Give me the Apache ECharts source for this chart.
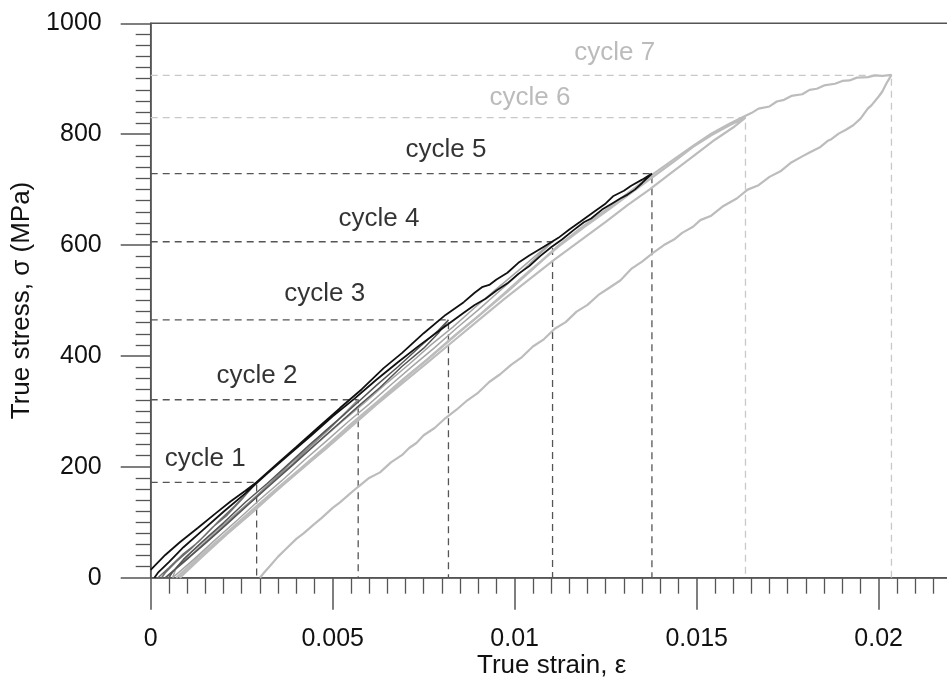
<!DOCTYPE html>
<html>
<head>
<meta charset="utf-8">
<script src="https://cdn.jsdelivr.net/npm/echarts@6/dist/echarts.min.js"></script>
<style>
  html, body { margin: 0; padding: 0; background: #fff; }
  #chart { width: 947px; height: 686px; }
</style>
</head>
<body>
<div id="chart"></div>
<script>
// stress-strain loops, [strain, stress MPa], loading then unloading
const cycle1 = [[0.0002,0],[0.0005,18],[0.0009,43],[0.0013,64],[0.0017,91],[0.0021,113],[0.0025,141],[0.00291,172],
  [0.0027,156],[0.0023,129],[0.0019,104],[0.0015,77],[0.0011,52],[0.0007,29],[0.0004,9],[0.0003,0]];
const cycle2 = [[0.0004,0],[0.0008,23],[0.0013,51],[0.0018,80],[0.0023,111],[0.0028,141],[0.0033,172],[0.0038,204],
  [0.0043,233],[0.0048,265],[0.0053,293],[0.0057,321],
  [0.0054,301],[0.0049,268],[0.0044,237],[0.0039,205],[0.0034,176],[0.0029,145],[0.0024,117],[0.0019,87],
  [0.0014,58],[0.0010,33],[0.0006,11],[0.0005,0]];
const cycle3 = [[0.0004,0],[0.0009,28],[0.0015,62],[0.0021,97],[0.0027,133],[0.0033,168],[0.0039,203],[0.0045,239],
  [0.0051,274],[0.0057,309],[0.0063,343],[0.0069,381],[0.0075,414],[0.0079,441],[0.00818,465],
  [0.0079,446],[0.0074,417],[0.0068,381],[0.0062,347],[0.0056,311],[0.0050,276],[0.0044,242],[0.0038,206],
  [0.0032,170],[0.0026,136],[0.0020,99],[0.0014,64],[0.0009,33],[0.0006,10],[0.0005,0]];
const cycle4 = [[0.0006,0],[0.0012,34],[0.0018,70],[0.0024,105],[0.0030,141],[0.0036,175],[0.0042,211],[0.0048,245],
  [0.0054,280],[0.0060,313],[0.0066,348],[0.0072,382],[0.0078,415],[0.0084,450],[0.0090,483],[0.0096,518],
  [0.0102,553],[0.0106,578],[0.01104,606],
  [0.0107,588],[0.0101,554],[0.0095,521],[0.0089,487],[0.0083,452],[0.0077,420],[0.0071,385],[0.0065,352],
  [0.0059,317],[0.0053,284],[0.0047,250],[0.0041,215],[0.0035,182],[0.0029,147],[0.0023,113],[0.0017,79],
  [0.0011,45],[0.0007,18],[0.0006,0]];
const cycle5 = [[0,14],[0.0004,41],[0.0008,64],[0.0013,90],[0.0018,117],[0.0022,138],[0.0026,157],[0.0029,172],
  [0.0035,207],[0.0040,236],[0.0046,271],[0.0052,306],[0.0058,340],[0.0064,378],[0.0069,405],[0.0075,441],
  [0.0081,474],[0.0086,497],[0.0089,514],[0.0091,524],[0.0093,528],[0.0095,538],[0.0098,550],[0.0101,568],
  [0.0104,581],[0.0108,597],[0.0112,613],[0.0115,628],[0.0118,642],[0.0122,661],[0.0125,675],[0.0127,688],
  [0.0130,698],[0.0132,707],[0.0135,718],[0.01377,729],
  [0.0135,712],[0.0133,700],[0.0131,691],[0.0129,684],[0.0127,676],[0.0124,664],[0.0121,648],[0.0119,641],
  [0.0116,626],[0.0113,610],[0.0110,596],[0.0107,580],[0.0104,562],[0.0101,548],[0.0098,531],[0.0095,518],
  [0.0092,503],[0.0089,492],[0.0086,478],[0.0080,449],[0.0074,420],[0.0068,389],[0.0062,357],[0.0056,323],
  [0.0050,291],[0.0044,256],[0.0038,222],[0.0032,188],[0.0026,152],[0.0020,119],[0.0014,84],[0.0009,55],
  [0.0005,28],[0.0002,9],[0.0001,0]];
const cycle6 = [[0.0007,0],[0.0013,36],[0.0020,76],[0.0027,117],[0.0034,157],[0.0041,196],[0.0048,236],[0.0055,277],
  [0.0062,316],[0.0069,356],[0.0076,394],[0.0083,434],[0.0090,472],[0.0097,512],[0.0104,553],[0.0112,597],
  [0.0119,632],[0.0126,665],[0.0132,694],[0.0138,723],[0.0144,752],[0.0149,777],[0.0154,798],[0.0159,816],
  [0.01634,830],
  [0.0160,812],[0.0155,790],[0.0149,760],[0.0143,730],[0.0137,700],[0.0131,672],[0.0125,642],[0.0118,608],
  [0.0111,574],[0.0104,538],[0.0097,502],[0.0090,464],[0.0083,426],[0.0076,388],[0.0069,350],[0.0062,312],
  [0.0055,272],[0.0048,232],[0.0041,194],[0.0034,154],[0.0027,114],[0.0020,74],[0.0014,40],[0.0010,16],[0.0008,0]];
const cycle7 = [[0.0008,0],[0.0014,37],[0.0021,79],[0.0028,118],[0.0035,160],[0.0042,199],[0.0049,240],[0.0056,281],
  [0.0063,320],[0.0070,361],[0.0077,399],[0.0084,439],[0.0091,477],[0.0098,516],[0.0105,557],[0.0112,599],
  [0.0119,635],[0.0126,668],[0.0132,698],[0.0138,728],[0.0144,756],[0.0149,779],[0.0154,801],[0.0159,819],
  [0.0163,832],[0.0165,838],[0.0167,846],[0.0170,850],[0.0172,859],[0.0174,862],[0.0176,869],[0.0179,872],
  [0.0181,880],[0.0183,882],[0.0185,888],[0.0188,891],[0.0190,896],[0.0192,897],[0.0194,902],[0.0197,903],
  [0.0199,906],[0.0201,905],[0.02035,907],
  [0.0202,890],[0.0201,877],[0.0200,868],[0.0198,852],[0.0197,846],[0.0195,828],[0.0193,816],[0.0191,808],
  [0.0189,801],[0.0187,791],[0.0186,788],[0.0184,777],[0.0181,767],[0.0179,760],[0.0176,749],[0.0173,733],
  [0.0170,723],[0.0167,708],[0.0164,700],[0.0161,684],[0.0157,669],[0.0154,653],[0.0151,645],[0.0149,633],
  [0.0146,622],[0.0144,611],[0.0141,600],[0.0138,586],[0.0135,570],[0.0132,557],[0.0129,536],[0.0126,523],
  [0.0123,510],[0.0120,492],[0.0117,480],[0.0114,461],[0.0111,449],[0.0108,430],[0.0105,417],[0.0102,398],
  [0.0099,384],[0.0096,367],[0.0093,353],[0.0090,334],[0.0087,320],[0.0084,303],[0.0081,288],[0.0078,270],
  [0.0075,257],[0.0073,243],[0.0071,234],[0.0069,221],[0.0066,208],[0.0063,190],[0.0060,180],[0.0057,164],
  [0.0055,153],[0.0052,136],[0.0050,126],[0.0047,108],[0.0045,97],[0.0042,80],[0.0040,70],[0.0037,51],
  [0.0035,38],[0.0033,23],[0.0031,8],[0.0030,0]];

const cycleNames = ['cycle 1', 'cycle 2', 'cycle 3', 'cycle 4', 'cycle 5', 'cycle 6', 'cycle 7'];
const cycleData = [cycle1, cycle2, cycle3, cycle4, cycle5, cycle6, cycle7];
const cycleColors = ['#6e6e6e', '#8a8a8a', '#555555', '#a5a5a5', '#111111', '#bcbcbc', '#bcbcbc'];
const cycleWidths = [1.5, 1.5, 1.5, 1.5, 1.8, 2.2, 2.2];

// peak strain / stress for the dashed guide lines
const peakStrain = [0.00291, 0.0057, 0.00818, 0.01104, 0.01377, 0.01634, 0.02035];
const peakStress = [172, 321, 465, 606, 729, 830, 906];
const guideColors = ['#555', '#555', '#555', '#555', '#555', '#c8c8c8', '#c8c8c8'];

// label positions (centre) in data units
const labelStrain = [0.0015, 0.00292, 0.00478, 0.00627, 0.00811, 0.01042, 0.01275];
const labelStress = [215, 364, 512, 647, 771, 865, 946];
const labelColors = ['#000', '#000', '#000', '#000', '#000', '#aaa', '#aaa'];

const chart = echarts.init(document.getElementById('chart'));
const font = 'Liberation Sans, Arial, sans-serif';
const axisColor = '#555';

const series = [];

// dashed guides
peakStrain.forEach((s, i) => {
  series.push({
    type: 'line',
    data: [[0, peakStress[i]], [s, peakStress[i]], [s, 0]],
    symbol: 'none',
    silent: true,
    lineStyle: { color: guideColors[i], width: 1.3, type: [7, 5] },
    z: 1
  });
});

// loops, drawn light to dark so the black one is on top
[6, 5, 3, 1, 0, 2, 4].forEach(i => {
  series.push({
    type: 'line',
    name: cycleNames[i],
    data: cycleData[i],
    symbol: 'none',
    lineStyle: { color: cycleColors[i], width: cycleWidths[i] },
    z: 3
  });
});

// cycle labels
series.push({
  type: 'scatter',
  symbolSize: 1,
  itemStyle: { color: 'transparent' },
  z: 5,
  data: cycleNames.map((n, i) => ({
    name: n,
    value: [labelStrain[i], labelStress[i]],
    label: { color: labelColors[i] }
  })),
  label: {
    show: true,
    position: 'inside',
    formatter: '{b}',
    fontFamily: font,
    fontSize: 26
  }
});

const option = {
  animation: false,
  backgroundColor: '#fff',
  grid: {
    left: 150.7,
    top: 23.3,
    width: 910,
    height: 554.4,
    outerBoundsMode: 'none',
    show: true,
    borderColor: axisColor,
    borderWidth: 1.5
  },
  xAxis: {
    type: 'value',
    min: 0,
    max: 0.025,
    interval: 0.005,
    axisLine: { show: true, lineStyle: { color: axisColor, width: 1.5 } },
    axisTick: { show: true, length: 32, lineStyle: { color: axisColor, width: 1.5 } },
    minorTick: { show: true, splitNumber: 10, length: 16, lineStyle: { color: axisColor, width: 1.3 } },
    splitLine: { show: false },
    axisLabel: {
      margin: 49,
      color: '#111',
      fontFamily: font,
      fontSize: 25,
      formatter: v => String(Number(v.toFixed(4)))
    }
  },
  yAxis: {
    type: 'value',
    min: 0,
    max: 1000,
    interval: 200,
    name: 'True stress, σ (MPa)',
    nameLocation: 'middle',
    nameGap: 112,
    nameTextStyle: { color: '#111', fontFamily: font, fontSize: 26 },
    axisLine: { show: true, lineStyle: { color: axisColor, width: 1.5 } },
    axisTick: { show: true, length: 30, lineStyle: { color: axisColor, width: 1.5 } },
    minorTick: { show: true, splitNumber: 10, length: 15, lineStyle: { color: axisColor, width: 1.3 } },
    splitLine: { show: false },
    axisLabel: { margin: 49, color: '#111', fontFamily: font, fontSize: 25, formatter: v => String(v) }
  },
  graphic: [{
    type: 'text',
    left: 552 - 75,
    top: 653,
    style: { text: 'True strain, ε', fill: '#111', font: '26px ' + font }
  }],
  series: series
};

chart.setOption(option);
</script>
</body>
</html>
